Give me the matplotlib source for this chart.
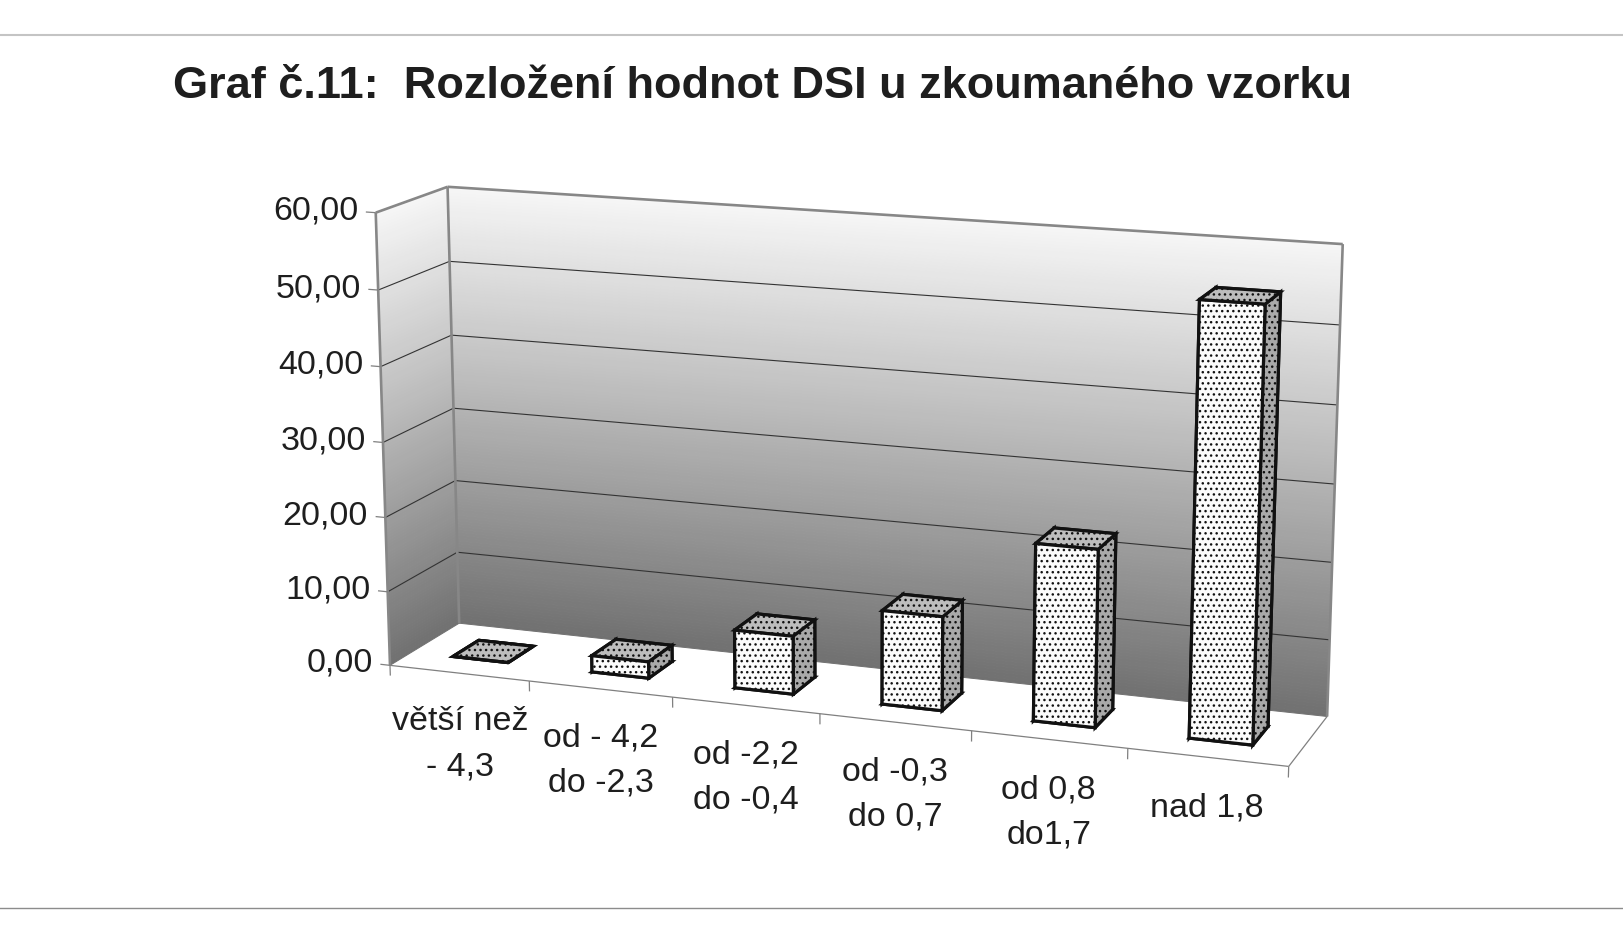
import numpy as np
import matplotlib
matplotlib.use("Agg")
import matplotlib.pyplot as plt
from matplotlib.lines import Line2D
from mpl_toolkits.mplot3d import proj3d
from mpl_toolkits.mplot3d.art3d import Poly3DCollection, Line3DCollection

plt.rcParams['font.family'] = ['Liberation Sans', 'DejaVu Sans']

# ---------------- data ----------------
title = "Graf č.11:  Rozložení hodnot DSI u zkoumaného vzorku"
categories = ["větší než\n- 4,3", "od - 4,2\ndo -2,3", "od -2,2\ndo -0,4",
              "od -0,3\ndo 0,7", "od 0,8\ndo1,7", "nad 1,8"]
values = [0.0, 2.2, 7.7, 12.3, 22.9, 54.9]
y_ticks = [0, 10, 20, 30, 40, 50, 60]
y_tick_labels = [f"{v:.2f}".replace('.', ',') for v in y_ticks]

# ---------------- figure ----------------
W, H = 1624, 927
fig = plt.figure(figsize=(W / 100, H / 100), dpi=100)
fig.patch.set_facecolor('white')

ax = fig.add_axes([0.1, 0.1, 0.8, 0.8], projection='3d', computed_zorder=False)
ax.set_proj_type('persp', focal_length=0.65)
ax.view_init(elev=14, azim=-70)
ax.set_axis_off()
ax.patch.set_alpha(0)
ax.set_xticks([])
ax.set_yticks([])
ax.set_zticks([])
for a in (ax.xaxis, ax.yaxis, ax.zaxis):
    a.label.set_visible(False)
    a.offsetText.set_visible(False)

n = len(categories)
zmax = y_ticks[-1]

# gradient walls
nb = 150
zs = np.linspace(0, zmax, nb + 1)
def wall_gray(z):
    lv = 0.44 + (0.965 - 0.44) * (z / zmax)
    return (lv, lv, lv, 1.0)
strip_cols = [wall_gray(0.5 * (a + b)) for a, b in zip(zs[:-1], zs[1:])]
back = [[(0, 1, a), (n, 1, a), (n, 1, b), (0, 1, b)] for a, b in zip(zs[:-1], zs[1:])]
left = [[(0, 0, a), (0, 1, a), (0, 1, b), (0, 0, b)] for a, b in zip(zs[:-1], zs[1:])]
for polys in (back, left):
    pc = Poly3DCollection(polys, facecolors=strip_cols, edgecolors=strip_cols,
                          linewidths=0.7, zorder=0)
    ax.add_collection3d(pc, autolim=False)

# gridlines
grid_segs = [[(0, 1, v), (n, 1, v)] for v in y_ticks[1:-1]] + \
            [[(0, 0, v), (0, 1, v)] for v in y_ticks[1:-1]]
ax.add_collection3d(Line3DCollection(grid_segs, colors='#333333', linewidths=0.8,
                                     zorder=1), autolim=False)

# wall borders
border = [[(0, 1, zmax), (n, 1, zmax)], [(n, 1, zmax), (n, 1, 0)],
          [(0, 1, 0), (0, 1, zmax)], [(0, 0, zmax), (0, 1, zmax)],
          [(0, 0, 0), (0, 0, zmax)]]
ax.add_collection3d(Line3DCollection(border, colors='#878787', linewidths=1.9,
                                     zorder=2), autolim=False)

# floor edges and ticks
floor = [[(0, 0, 0), (n, 0, 0)], [(n, 0, 0), (n, 1, 0)]]
floor += [[(i, 0, 0), (i, 0, -1.4)] for i in range(n + 1)]
floor += [[(-0.07, 0, v), (0, 0, v)] for v in y_ticks]
ax.add_collection3d(Line3DCollection(floor, colors='#808080', linewidths=0.9,
                                     zorder=2), autolim=False)

# bars
bw, bd = 0.40, 0.38
xs = np.arange(n) + 0.5 - bw / 2
ys = np.full(n, 0.5 - bd / 2)
top_c, front_c, side_c = '#bdbdbd', '#fbfbfb', '#a9a9a9'
face_cols = []
for _ in values:
    face_cols += [side_c, top_c, front_c, side_c, front_c, side_c]
bars = ax.bar3d(xs, ys, np.zeros(n), bw, bd, values, color=face_cols,
                edgecolor='#111111', linewidth=2.3, shade=False, zorder=3)
bars.set_hatch('...')
bars.set_joinstyle('miter')

ax.set_xlim(0, n)
ax.set_ylim(0, 1)
ax.set_zlim(0, zmax)
ax.set_box_aspect((5, 0.86, 2.5))

# ---- place the projected box where the reference shows it ----
fig.canvas.draw()
bb = ax.get_position(original=False)
S0 = bb.width * W
C0 = np.array([(bb.x0 + bb.width / 2) * W, (bb.y0 + bb.height / 2) * H])

def normalized(points):
    p = np.asarray(points, float)
    px, py, _ = proj3d.proj_transform(p[:, 0], p[:, 1], p[:, 2], ax.get_proj())
    d = ax.transData.transform(np.column_stack([px, py]))
    return (d - C0) / S0

corners = [(0, 1, zmax), (n, 1, zmax), (n, 1, 0), (0, 1, 0),
           (0, 0, zmax), (0, 0, 0), (n, 0, 0)]
targets_px = [(448, 188), (1343, 244), (1325, 720), (460, 617),
              (373, 213), (392, 660), (1290, 773)]
q = normalized(corners)
q_ylab = normalized([(-0.125, 0, v) for v in y_ticks])
q_xlab = normalized([(i + 0.5, 0, -4.5) for i in range(n)])

A, rhs = [], []
for (qx, qy), (tx, ty) in zip(q, targets_px):
    A.append([1, 0, qx]); rhs.append(tx)
    A.append([0, 1, qy]); rhs.append(H - ty)
sol, *_ = np.linalg.lstsq(np.array(A, float), np.array(rhs, float), rcond=None)
Cx, Cy, S = sol
ax.set_position([(Cx - S / 2) / W, (Cy - S / 2) / H, S / W, S / H])

def to_fig(qq):
    d = np.array([Cx, Cy]) + qq * S
    return d[:, 0] / W, d[:, 1] / H

# value-axis tick labels (anchored on the projected front-left edge)
fx, fy = to_fig(q_ylab)
for x_, y_, lab in zip(fx, fy, y_tick_labels):
    fig.text(x_, y_, lab, ha='right', va='center', fontsize=24.5,
             color='#1e1e1e')

# category labels (anchored under the projected front floor edge)
fx, fy = to_fig(q_xlab)
for x_, y_, lab in zip(fx, fy, categories):
    fig.text(x_, y_, lab, ha='center', va='top', fontsize=24.5,
             linespacing=1.58, multialignment='center', color='#1e1e1e')

# title and rules
fig.text(173 / W, 1 - 98 / H, title, fontsize=32.5, fontweight='bold',
         ha='left', va='baseline', color='#1e1e1e')
fig.add_artist(Line2D([0, 1], [1 - 35 / H] * 2, transform=fig.transFigure,
                      color='#c4c4c4', lw=1.5))
fig.add_artist(Line2D([0, 1], [1 - 908 / H] * 2, transform=fig.transFigure,
                      color='#8c8c8c', lw=1.0))

fig.savefig('out.png', dpi=100)
